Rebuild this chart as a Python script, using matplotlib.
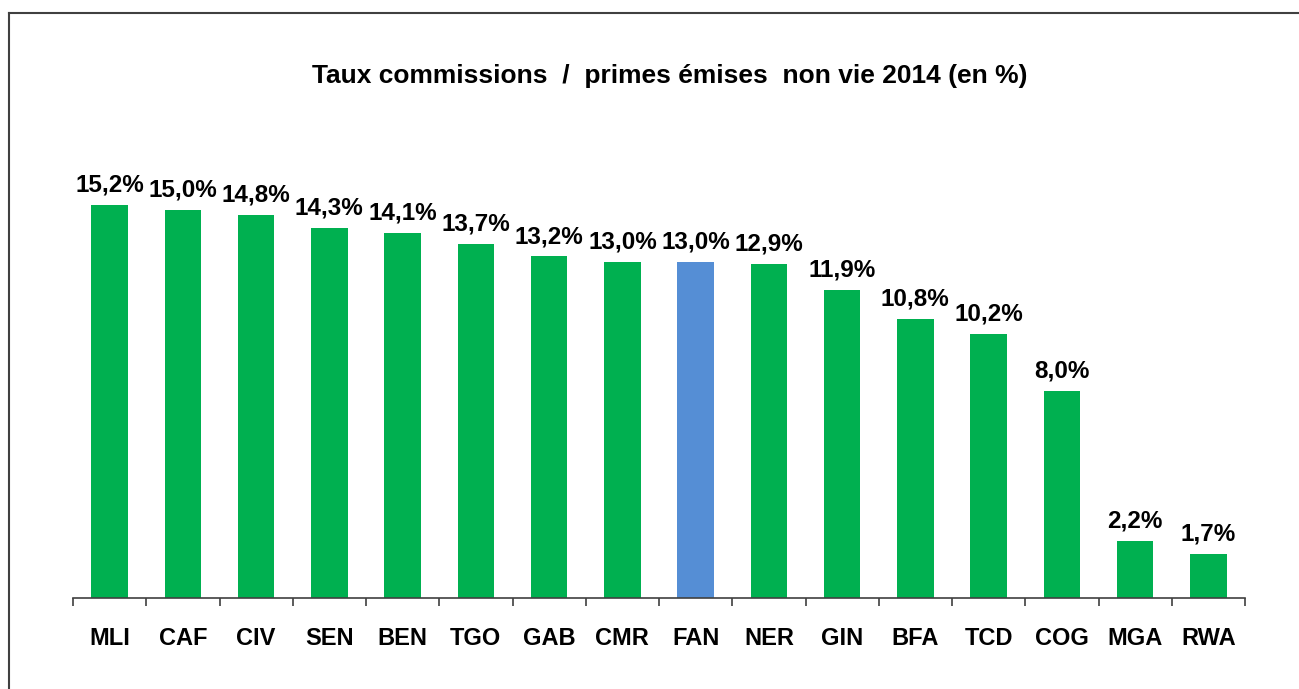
import matplotlib.pyplot as plt
from matplotlib.lines import Line2D

plt.rcParams['font.family'] = ['Liberation Sans', 'DejaVu Sans']

countries = ['MLI', 'CAF', 'CIV', 'SEN', 'BEN', 'TGO', 'GAB', 'CMR',
             'FAN', 'NER', 'GIN', 'BFA', 'TCD', 'COG', 'MGA', 'RWA']
rates = [15.2, 15.0, 14.8, 14.3, 14.1, 13.7, 13.2, 13.0,
         13.0, 12.9, 11.9, 10.8, 10.2, 8.0, 2.2, 1.7]
highlight = 'FAN'

W, H = 1299, 689
fig = plt.figure(figsize=(W / 100, H / 100), dpi=100)

# outer frame: only top and left edges fall inside the image
fig.add_artist(Line2D([9 / W, 9 / W], [0, 1 - 13 / H], transform=fig.transFigure,
                      color='#404040', lw=1.5))
fig.add_artist(Line2D([9 / W, 1], [1 - 13 / H, 1 - 13 / H], transform=fig.transFigure,
                      color='#404040', lw=1.5))

ax = fig.add_axes([73 / W, (H - 598) / H, (1245 - 73) / W, 414 / H])

colors = ['#558ED5' if c == highlight else '#00B050' for c in countries]
x = range(len(countries))
bars = ax.bar(x, rates, width=0.5, color=colors, zorder=2)

for b, v in zip(bars, rates):
    ax.annotate(f'{v:.1f}%'.replace('.', ','), (b.get_x() + b.get_width() / 2, v),
                xytext=(0, 6), textcoords='offset points', ha='center', va='bottom',
                fontsize=17.5, fontweight='bold')

ax.set_xlim(-0.5, len(countries) - 0.5)
ax.set_ylim(0, 16)
ax.set_yticks([])
for s in ['top', 'right', 'left']:
    ax.spines[s].set_visible(False)
ax.spines['bottom'].set_color('#404040')
ax.spines['bottom'].set_linewidth(1.2)

ax.set_xticks([i - 0.5 for i in range(len(countries) + 1)], minor=False)
ax.set_xticklabels([])
ax.tick_params(axis='x', which='major', direction='out', length=6, width=1.2, color='#404040')
ax.set_xticks(list(x), minor=True)
ax.set_xticklabels(countries, minor=True, fontsize=17, fontweight='bold')
ax.tick_params(axis='x', which='minor', length=0, pad=21)

fig.text(670 / W, 1 - 76 / H, 'Taux commissions  /  primes émises  non vie 2014 (en %)',
         ha='center', va='center', fontsize=19, fontweight='bold')

fig.savefig('out.png', dpi=100)
